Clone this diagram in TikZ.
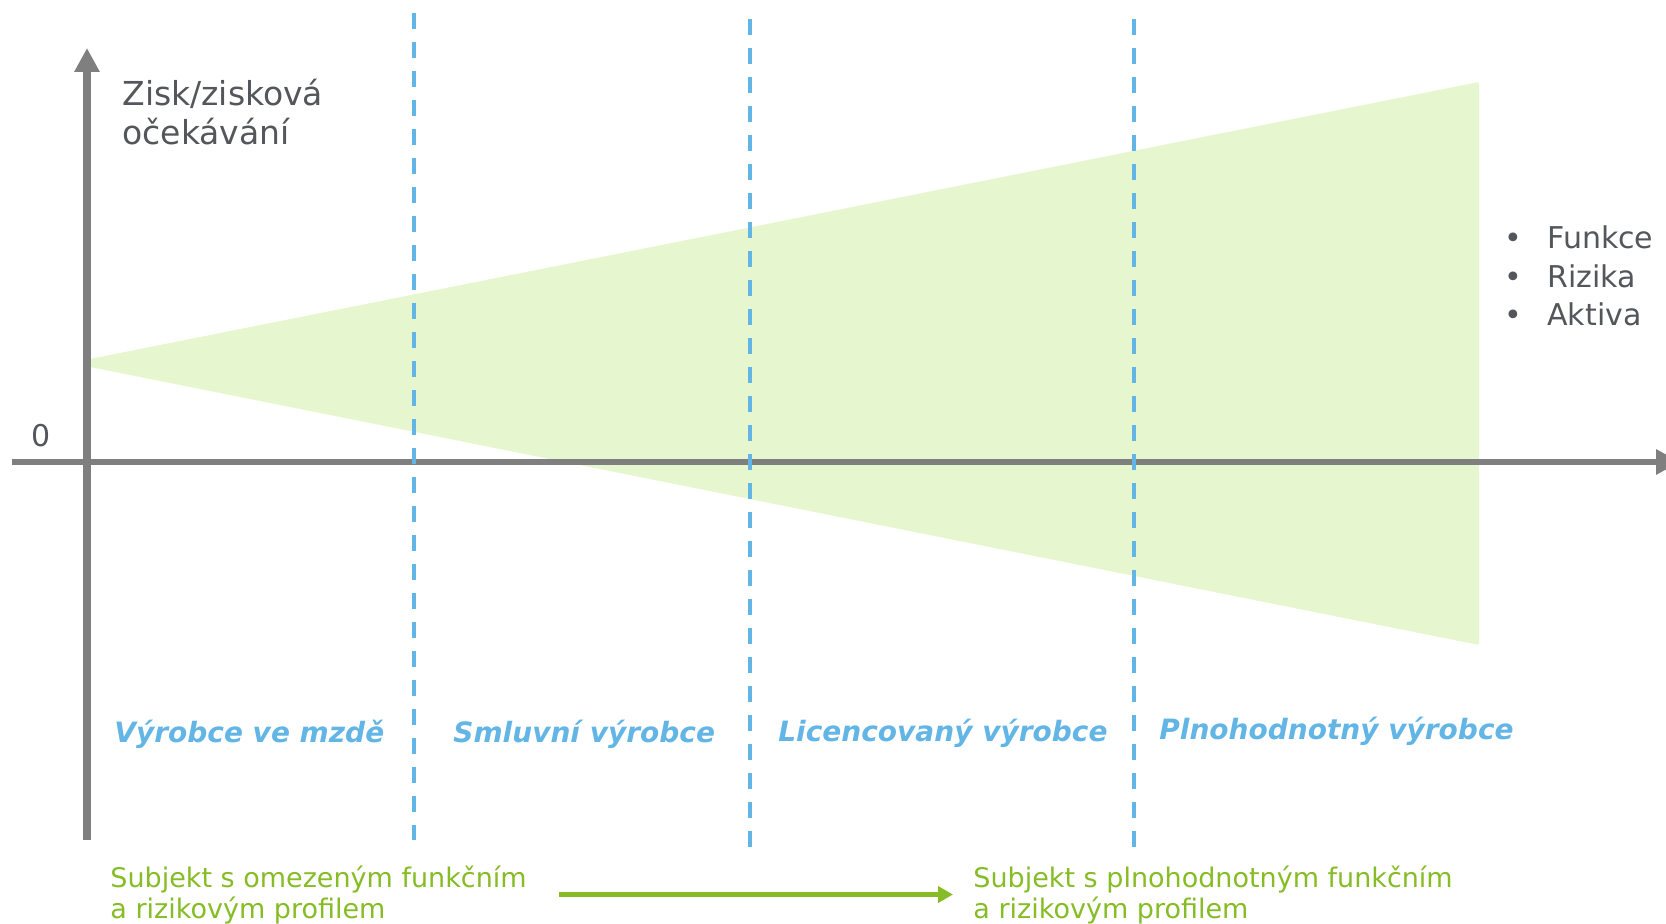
\documentclass[tikz,border=0pt]{standalone}
\usepackage{fontspec}
\setmainfont{DejaVu Sans}
\usetikzlibrary{arrows.meta, positioning}
\definecolor{axisgrey}{RGB}{127, 127, 127}
\definecolor{textgrey}{RGB}{83, 86, 90}
\definecolor{phaseblue}{RGB}{98, 181, 229}
\definecolor{profilegreen}{RGB}{134, 188, 37}
\definecolor{wedgegreen}{RGB}{230, 246, 207}

\begin{document}
\begin{tikzpicture}[x=0.5pt, y=-0.5pt,
    axisline/.style={draw=axisgrey, -{Triangle[length=12pt, width=12pt]}},
    divider/.style={draw=phaseblue, line width=2.1pt, dash pattern=on 8pt off 6.5pt},
    axistext/.style={text=textgrey, inner sep=0pt, align=left},
    phase/.style={anchor=base west, text=phaseblue, inner sep=0pt,
        font=\fontsize{14}{17}\selectfont\bfseries\itshape},
    profile/.style={anchor=base west, text=profilegreen, inner sep=0pt, align=left,
        font=\fontsize{13.5}{15.5}\selectfont},
    flow/.style={draw=profilegreen, line width=2.1pt, -{Triangle[length=7.5pt, width=8pt]}}]
    \useasboundingbox (0,0) rectangle (1666,924);

    % wedge
    \fill[wedgegreen, rounded corners=1pt] (90,359) -- (1479,82) -- (1479,645) -- (90,367) -- cycle;

    % axes
    \coordinate (ytop) at (87,48);
    \coordinate (ybottom) at (87,840);
    \coordinate (xleft) at (12,462);
    \coordinate (xright) at (1680,462);
    \draw[axisline, line width=3.8pt] (ybottom) -- (ytop);
    \draw[axisline, line width=3pt] (xleft) -- (xright);

    % base anchor of a two-line node sits on its last line
    \node[axistext, anchor=base west, font=\fontsize{16.5}{19.5}\selectfont] (ylabel) at (122,145) {Zisk/zisková\\očekávání};
    \node[axistext, anchor=base, font=\fontsize{15}{18}\selectfont] (zero) at (41,447) {0};

    % dividers
    \foreach \x/\top/\bot [count=\i] in {414/13/840, 750/19/847, 1134/19/847} {
        \coordinate (d\i top) at (\x,\top);
        \coordinate (d\i bot) at (\x,\bot);
        \draw[divider] (d\i top) -- (d\i bot);
    }

    % bullet list
    \foreach \y/\item [count=\i] in {249/Funkce, 288/Rizika, 326/Aktiva} {
        \node[axistext, anchor=base west, font=\fontsize{15}{17}\selectfont] (item\i) at (1504,\y) {\makebox[21.5pt][l]{•}\item};
    }

    % phases
    \node[phase] (wage) at (114,742) {Výrobce ve mzdě};
    \node[phase] (contract) at (453,742) {Smluvní výrobce};
    \node[phase] (licensed) at (778,741) {Licencovaný výrobce};
    \node[phase] (fullfledged) at (1159,740) {Plnohodnotný výrobce};

    % profiles
    \node[profile] (limited) at (110,918) {Subjekt s omezeným funkčním\\a rizikovým profilem};
    \node[profile] (full) at (973,918) {Subjekt s plnohodnotným funkčním\\a rizikovým profilem};
    \draw[flow] ([xshift=16pt]limited.north east |- limited.east) -- ([xshift=-10pt]full.west);

\end{tikzpicture}
\end{document}
